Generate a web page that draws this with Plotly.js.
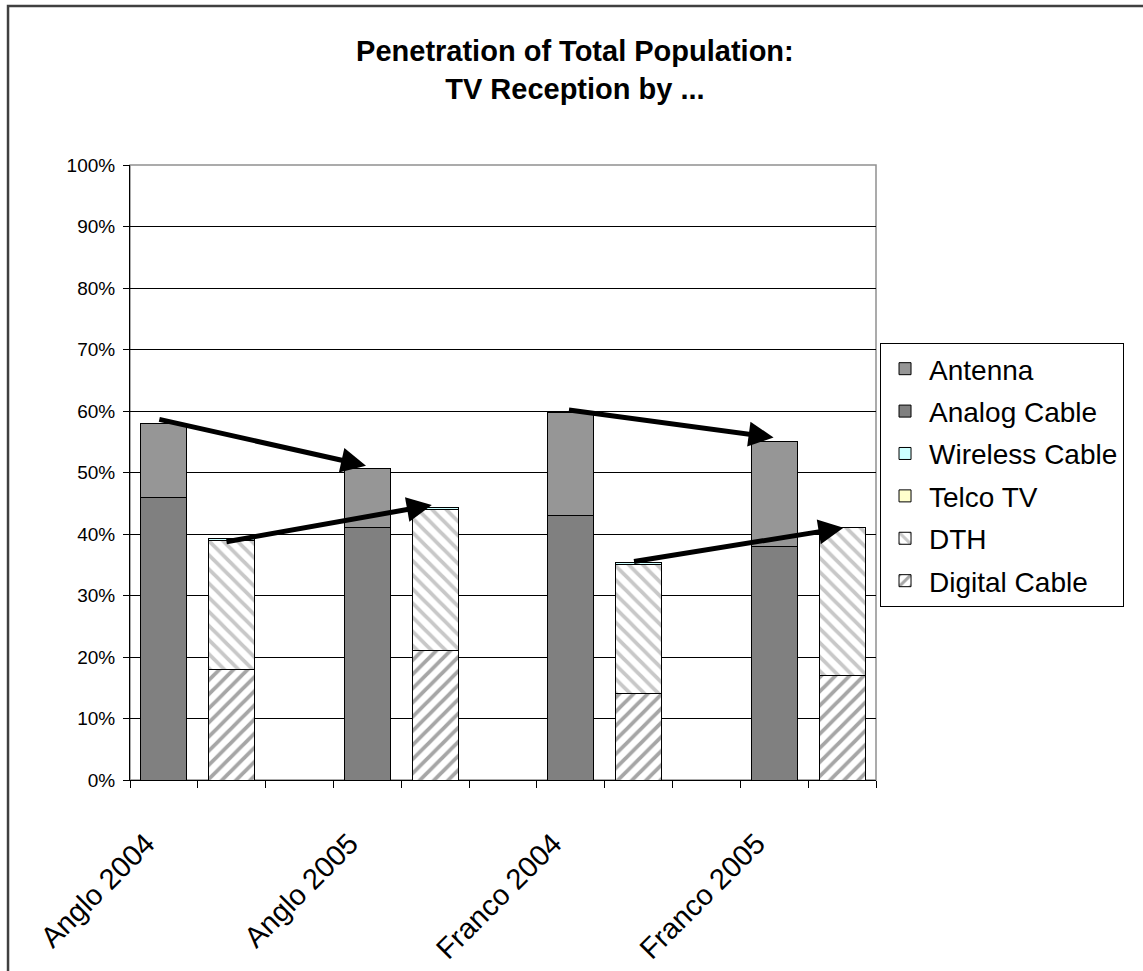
<!DOCTYPE html>
<html>
<head>
<meta charset="utf-8">
<script src="https://cdn.plot.ly/plotly-3.0.1.min.js"></script>
<style>html,body{margin:0;padding:0;background:#fff;}#chart{width:1143px;height:971px;}</style>
</head>
<body>
<div id="chart"></div>
<script>
// 11 category slots: bar pair per group plus an empty spacer slot
const slots = [0,1,2,3,4,5,6,7,8,9,10];
const groupLabels = ["Anglo 2004","Anglo 2005","Franco 2004","Franco 2005"];
const groupLabelSlots = [0,3,6,9];
const boundaryTicks = [-0.5,0.5,1.5,2.5,3.5,4.5,5.5,6.5,7.5,8.5,9.5,10.5];

const digitalCable  = [null,18,null,null,21,null,null,14,null,null,17];
const dth           = [null,21,null,null,23,null,null,21,null,null,24];
const telcoTV       = [null,0,null,null,0,null,null,0,null,null,0];
const wirelessCable = [null,0.3,null,null,0.3,null,null,0.3,null,null,0];
const analogCable   = [46,null,null,41,null,null,43,null,null,38,null];
const antenna       = [12,null,null,9.6,null,null,16.8,null,null,17,null];

// trend arrows: [fromSlot, fromPct, toSlot, toPct]
const arrows = [
  [-0.09,58.7, 2.98,51.1],
  [0.90,38.7, 3.95,44.7],
  [5.95,60.2, 8.99,55.7],
  [6.91,35.5, 10.02,41.0]
];

const font = "Liberation Sans, Arial, sans-serif";
const outline = {color:"#000", width:1};
const labelShift = -0.26; // rotated labels end slightly left of the slot centre

function bar(name, y, marker, rank){
  return {type:"bar", name:name, x:slots, y:y, legendgroup:name, legendrank:rank,
    marker:Object.assign({line:outline}, marker), hoverinfo:"name+y"};
}

const traces = [
  bar("Digital Cable", digitalCable, {color:"#ffffff",
      pattern:{shape:"/", fgcolor:"#a6a6a6", bgcolor:"#ffffff", size:10, solidity:0.38}}, 6),
  bar("DTH", dth, {color:"#ffffff",
      pattern:{shape:"\\", fgcolor:"#c8c8c8", bgcolor:"#ffffff", size:10, solidity:0.38}}, 5),
  bar("Telco TV", telcoTV, {color:"#ffffcc"}, 4),
  bar("Wireless Cable", wirelessCable, {color:"#ccffff"}, 3),
  bar("Analog Cable", analogCable, {color:"#808080"}, 2),
  bar("Antenna", antenna, {color:"#969696"}, 1),
  {type:"scatter", x:[null], y:[null], xaxis:"x2", yaxis:"y", showlegend:false, hoverinfo:"skip"}
];

const annotations = arrows.map(a => ({
  x:a[2], y:a[3], ax:a[0], ay:a[1], xref:"x", yref:"y", axref:"x", ayref:"y",
  text:"", showarrow:true, arrowhead:2, arrowsize:1, arrowwidth:5, arrowcolor:"#000", standoff:0
}));

const layout = {
  width:1143, height:971,
  margin:{l:130, r:267, t:165, b:191},
  paper_bgcolor:"#ffffff", plot_bgcolor:"#ffffff",
  font:{family:font, color:"#000"},
  title:{text:"<b>Penetration of Total Population:<br>TV Reception by ...</b>",
    font:{family:font, size:29, color:"#000"},
    xref:"container", x:0.503, xanchor:"center", yref:"container", y:0.937, yanchor:"top"},
  barmode:"stack", bargap:0.32,
  xaxis:{range:[-0.5,10.5], tickmode:"array", tickvals:groupLabelSlots.map(v => v + labelShift), ticktext:groupLabels,
    tickangle:-45, ticks:"", ticklabelstandoff:34, showgrid:false, zeroline:false, showline:true, linecolor:"#000", linewidth:1,
    tickfont:{family:font, size:29, color:"#000"}, fixedrange:true},
  xaxis2:{overlaying:"x", anchor:"y", side:"bottom", range:[-0.5,10.5], tickmode:"array",
    tickvals:boundaryTicks, ticks:"outside", ticklen:7, tickcolor:"#000", tickwidth:1,
    showticklabels:false, showgrid:false, zeroline:false, showline:false},
  yaxis:{range:[0,100], tickmode:"linear", tick0:0, dtick:10, ticksuffix:"%",
    ticks:"outside", ticklen:6, tickcolor:"#000", showgrid:true, gridcolor:"#000", gridwidth:1,
    zeroline:false, showline:true, linecolor:"#000", linewidth:1, ticklabelstandoff:4,
    tickfont:{family:font, size:19, color:"#000"}, fixedrange:true},
  legend:{x:1.0054, xanchor:"left", y:0.7106, yanchor:"top", traceorder:"grouped",
    tracegroupgap:3, itemwidth:38, bgcolor:"#ffffff", bordercolor:"#000", borderwidth:1,
    font:{family:font, size:28, color:"#000"}},
  annotations:annotations,
  shapes:[
    {type:"rect", xref:"paper", yref:"paper", x0:0, x1:1, y0:0, y1:1, line:{color:"#909090", width:1.5}, layer:"below"},
    {type:"rect", xref:"paper", yref:"paper", x0:-0.1635, x1:1.6, y0:-0.5, y1:1.2585, line:{color:"#404040", width:2.5}, layer:"above"}
  ],
  showlegend:true
};

Plotly.newPlot("chart", traces, layout, {displayModeBar:false, staticPlot:true});
</script>
</body>
</html>
